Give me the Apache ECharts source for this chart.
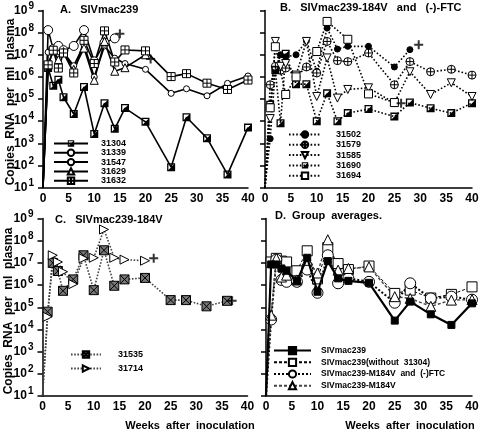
<!DOCTYPE html>
<html><head><meta charset="utf-8">
<script src="https://cdn.jsdelivr.net/npm/echarts@6/dist/echarts.min.js"></script>
<style>html,body{margin:0;padding:0;background:#fff}#c{width:487px;height:433px}</style>
</head><body><div id="c"></div>
<script>
// ---------- data ----------
const xTicks = [0, 5, 10, 15, 20, 25, 30, 35, 40];
const weeksA = [0, 1, 2, 3, 4, 6, 8, 10, 12, 14, 16, 20, 25, 28, 32, 36, 40];
const a31304 = [10, 2.5e6, 4e5, 7.5e5, 1.2e5, 2.1e4, 3.5e5, 2.6e3, 6.5e4, 4.5e3, 3.9e4, 9.3e3, 83, 1.5e4, 1.7e3, 39, 5.1e3];
const a31339 = [10, 1.3e7, 1.6e7, 1.4e7, 1.3e7, 3.2e6, 2.8e7, 1e6, 2.5e7, 7e6, 4e6, 2.2e6, 1.8e5, 2.9e5, 1.4e5, 5.1e5, 1.1e6];
const a31547 = [10, 1.3e8, 1.8e7, 2.5e7, 1.6e7, 2.5e7, 1.3e8, 5e6, 3.5e7, 5.5e7, null, null, null, null, null, null, null];
const a31629 = [10, 3.5e6, 1.5e7, 6e6, 1.4e7, 2.2e6, 2e7, 7e5, 4e7, 1.8e6, 2.6e6, 1e7, null, null, null, null, null];
const a31632 = [10, 3.5e6, 1.6e7, 2.5e6, 1.2e7, 1.5e6, 4.5e7, 4e6, 1.2e8, 4.7e6, 1.65e7, 1.5e7, 1.03e6, 1.4e6, 5.2e5, 2.7e5, 7.2e5];
const deathA = [[15, 9e7], [21, 6.5e6]];

const weeksB = [0, 1, 2, 3, 4, 6, 8, 10, 12, 14, 16, 20, 25, 28, 32, 36, 40];
const b31502 = [10, 1.6e3, 2e6, 1e7, 8e6, 1e7, 4.3e7, 1.8e6, 1.6e8, 1.8e7, 2.4e7, 2.4e7, 2.8e6, 1.7e7, null, null, null];
const b31579 = [10, 4.4e5, 3e6, 2e6, 2.5e6, 1e6, 2.8e6, 1.5e6, 4e7, 5.4e6, 4.9e6, 1.2e7, 4.4e5, 4.9e6, 1.7e6, 2.2e6, 1.2e6];
const b31585 = [10, 1.3e4, 4e7, 3e6, 4e6, 1.2e6, 4e7, 1.3e5, 7.2e6, 1.1e5, 2.7e5, 3.2e5, 6.6e4, 1.7e6, 1.6e5, 5.4e5, 1.3e5];
const b31690 = [10, 5.5e4, 2e6, 8e3, 1.1e7, 4.7e5, 4.7e5, 1e4, 1.8e5, 1e4, 2.3e4, 3.5e4, 1.6e4, 6.9e4, 3.8e4, 2.3e4, 6.5e4];
const b31694 = [10, 4e4, 2.3e7, null, 1.6e5, 1e6, null, 1.4e7, 3.2e8, null, 5e7, 1.7e5, 6.9e4, null, null, null, null];
const deathB = [[29.7, 2.8e7], [26.3, 6.5e4]];

const weeksC = [0, 1, 2, 3, 4, 6, 8, 10, 12, 14, 16, 20, 25, 28, 32, 36];
const c31535 = [10, 6.3e4, 1e7, 4.3e6, 5.5e5, 1.8e6, 2.2e7, 5.9e5, 3.7e7, 9.3e5, 1.8e6, 2.1e6, 2.1e5, 2.1e5, 1.1e5, 1.95e5];
const c31714 = [10, 3.7e4, 2.2e7, 1.1e7, 4e6, 1.1e6, 1.6e7, 1.7e7, 3.2e8, 1.7e7, 1.4e7, 1.25e7, null, null, null, null];
const deathC = [[37, 1.95e5], [21.7, 1.6e7]];

const weeksD = [0, 1, 2, 3, 4, 6, 8, 10, 12, 14, 16, 20, 25, 28, 32, 36, 40];
const d239 = [10, 8.5e6, 8.5e6, 5.6e6, 4.4e6, 1.5e6, 1.7e7, 5e5, 1.2e7, 2e6, 1.55e6, 1.26e6, 2.5e4, 1.8e5, 4.8e4, 1.6e4, 1.5e5];
const d239wo = [10, 1.1e7, 1.6e7, 1.2e7, 1.1e7, 4.4e6, 3.5e7, 1.9e6, 4.9e7, 9.3e6, 5e6, 7.2e6, 4.2e5, 5.9e5, 2.6e5, 3.8e5, 8.3e5];
const dFTC = [10, 2.8e4, 1.4e7, 1.7e6, 1.4e6, 1.4e6, 5e6, 4.5e5, 2.2e7, 1.2e6, 2e6, 1.4e6, 1.6e5, 1.2e6, 2.5e5, 3e5, 2.2e5];
const dM184V = [10, 4.4e4, 1.6e7, 2.3e6, 2.8e6, 1.7e6, 1.3e7, 3.5e6, 1.1e8, 4.7e6, 5.6e6, 6.6e6, 3e5, 2.5e5, 1.1e5, 2.1e5, 2.2e5];

const namesA = ['31304', '31339', '31547', '31629', '31632'];
const namesB = ['31502', '31579', '31585', '31690', '31694'];
const namesC = ['31535', '31714'];
const namesD = ['SIVmac239', 'SIVmac239(without  31304)', 'SIVmac239-M184V  and  (-)FTC', 'SIVmac239-M184V'];

// ---------- styling ----------
const FONT = 'Liberation Sans';
const P = {
  half: 'path://M0 0 L10 0 L10 10 L0 10 Z M1.6 1.6 L1.6 8.4 L8.4 8.4 L8.4 1.6 Z M10 0 L10 10 L0 10 Z',
  sqPlus: 'path://M0 0 L10 0 L10 10 L0 10 Z M5 0 L5 10 M0 5 L10 5',
  sqX: 'path://M0 0 L10 0 L10 10 L0 10 Z M0 0 L10 10 M10 0 L0 10',
  cPlus: 'path://M0 5 A5 5 0 1 1 10 5 A5 5 0 1 1 0 5 Z M5 0 L5 10 M0 5 L10 5',
  triDown: 'path://M0 0 L10 0 L5 9 Z',
  triRight: 'path://M0 0 L9 5 L0 10 Z',
  plus: 'path://M5 0 L5 10 M0 5 L10 5'
};

function pts(weeks, vals) {
  const out = [];
  weeks.forEach((w, i) => {
    const v = vals[i];
    if (v == null) return;
    if (w === 0) out.push({ value: [w, v], symbol: 'none' });
    else out.push([w, v]);
  });
  return out;
}
function ser(name, idx, weeks, vals, o) {
  return {
    name, type: 'line', xAxisIndex: idx, yAxisIndex: idx, data: pts(weeks, vals),
    symbol: o.sym, symbolSize: o.size,
    showAllSymbol: true,
    lineStyle: { color: o.lc || '#000', width: o.lw, type: o.lt || 'solid' },
    itemStyle: { color: o.fill, borderColor: '#000', borderWidth: o.bw == null ? 1 : o.bw },
    emphasis: { disabled: true }, animation: false, z: o.z || 2
  };
}
function death(idx, data) {
  return { type: 'scatter', xAxisIndex: idx, yAxisIndex: idx, data, symbol: P.plus, symbolSize: 9,
    itemStyle: { color: 'transparent', borderColor: '#000', borderWidth: 2 }, animation: false, z: 5 };
}

const grids = [
  { left: 43, top: 10.5, width: 205, height: 177 },
  { left: 265, top: 10.5, width: 207, height: 177 },
  { left: 42.5, top: 218.5, width: 205, height: 177.5 },
  { left: 266, top: 218.5, width: 206, height: 177.5 }
];
const xAxes = grids.map((g, i) => ({
  type: 'value', gridIndex: i, min: 0, max: 40, interval: 5,
  axisLine: { lineStyle: { color: '#000', width: 1.5 } },
  axisTick: { show: false }, splitLine: { show: false },
  axisLabel: { color: '#000', fontFamily: FONT, fontWeight: 'bold', fontSize: 12, margin: 5 }
}));
const yAxes = grids.map((g, i) => ({
  type: 'log', logBase: 10, gridIndex: i, min: 10, max: 1e9,
  axisLine: { show: true, lineStyle: { color: '#000', width: 1.5 } },
  axisTick: { show: true, inside: false, length: 5, lineStyle: { color: '#000', width: 1.5 } },
  minorTick: { show: false }, splitLine: { show: false },
  axisLabel: {
    show: i % 2 === 0, margin: 9,
    formatter: v => '{b|10}{s|' + Math.round(Math.log10(v)) + '}',
    rich: {
      b: { fontFamily: FONT, fontWeight: 'bold', fontSize: 12, color: '#000' },
      s: { fontFamily: FONT, fontWeight: 'bold', fontSize: 10, color: '#000', padding: [0, 0, 9, 1] }
    }
  }
}));

const series = [
  ser('31304', 0, weeksA, a31304, { sym: P.half, size: 8, fill: '#000', bw: 0, lw: 1.6 }),
  ser('31339', 0, weeksA, a31339, { sym: 'circle', size: 6, fill: '#fff', lw: 1.6 }),
  ser('31547', 0, weeksA, a31547, { sym: 'circle', size: 9, fill: '#fff', lw: 1.6 }),
  ser('31629', 0, weeksA, a31629, { sym: 'triangle', size: 8, fill: '#fff', lw: 1.6 }),
  ser('31632', 0, weeksA, a31632, { sym: P.sqPlus, size: 8, fill: '#fff', lw: 1.6 }),
  death(0, deathA),
  ser('31502', 1, weeksB, b31502, { sym: 'circle', size: 6, fill: '#000', lw: 1.6, lt: [1.6, 2] }),
  ser('31579', 1, weeksB, b31579, { sym: P.cPlus, size: 8, fill: '#fff', lw: 1.6, lt: [1.6, 2] }),
  ser('31585', 1, weeksB, b31585, { sym: P.triDown, size: 8, fill: '#fff', lw: 1.6, lt: [1.6, 2] }),
  ser('31690', 1, weeksB, b31690, { sym: P.half, size: 8, fill: '#000', bw: 0, lw: 1.6, lt: [1.6, 2] }),
  ser('31694', 1, weeksB, b31694, { sym: 'rect', size: 8, fill: '#fff', lw: 1.6, lt: [1.6, 2] }),
  death(1, deathB),
  ser('31535', 2, weeksC, c31535, { sym: P.sqX, size: 9, fill: '#777', lw: 1.6, lt: [1.6, 1.6], lc: '#444' }),
  ser('31714', 2, weeksC, c31714, { sym: P.triRight, size: 9, fill: '#fff', lw: 1.6, lt: [1.6, 1.6], lc: '#444' }),
  death(2, deathC),
  ser(namesD[0], 3, weeksD, d239, { sym: 'rect', size: 7, fill: '#000', lw: 2.2, z: 4 }),
  ser(namesD[1], 3, weeksD, d239wo, { sym: 'rect', size: 10, fill: '#fff', lw: 1, lt: [3, 2], z: 3 }),
  ser(namesD[2], 3, weeksD, dFTC, { sym: 'circle', size: 11, fill: '#fff', lw: 2, lt: [2, 2], z: 3 }),
  ser(namesD[3], 3, weeksD, dM184V, { sym: 'triangle', size: 10, fill: '#fff', lw: 1.4, lt: [3, 2], lc: '#444', z: 3 })
];

function leg(names, left, top, w, h, gap, tp, fs) {
  return {
    data: names, orient: 'vertical', left, top, itemWidth: w, itemHeight: h, itemGap: gap,
    padding: 0, selectedMode: false,
    textStyle: { fontFamily: FONT, fontWeight: 'bold', fontSize: fs, color: '#000', padding: [0, 0, 0, tp], lineHeight: h }
  };
}

const T = (text, x, y, o = {}) => ({
  type: 'text', x, y, rotation: o.rot || 0,
  style: { text, fill: '#000', font: 'bold ' + (o.fs || 11) + 'px "' + FONT + '"',
    textAlign: o.align || 'left', textVerticalAlign: 'middle' }
});

const chart = echarts.init(document.getElementById('c'), null, { renderer: 'canvas' });
chart.setOption({
  backgroundColor: '#fff',
  animation: false,
  grid: grids,
  xAxis: xAxes,
  yAxis: yAxes,
  legend: [
    leg(namesA, 53, 139, 34, 8, 0.3, 8, 9),
    leg(namesB, 288, 130, 32, 8, 1.3, 10, 9),
    leg(namesC, 70, 350, 30, 8, 5, 12, 9),
    leg(namesD, 273, 346, 37, 9, 2.5, 5, 8.5)
  ],
  series,
  graphic: [
    T('A.   SIVmac239', 60, 10),
    T('B.   SIVmac239-184V   and   (-)-FTC', 280, 8),
    T('C.   SIVmac239-184V', 55, 220),
    T('D.  Group  averages.', 275, 216),
    T('Copies  RNA  per  ml  plasma', 11, 102, { rot: Math.PI / 2, align: 'center', fs: 12 }),
    T('Copies  RNA  per  ml  plasma', 9, 311, { rot: Math.PI / 2, align: 'center', fs: 12 }),
    T('Weeks  after  inoculation', 190, 426, { align: 'center' }),
    T('Weeks  after  inoculation', 410, 426, { align: 'center' })
  ]
});
</script></body></html>
